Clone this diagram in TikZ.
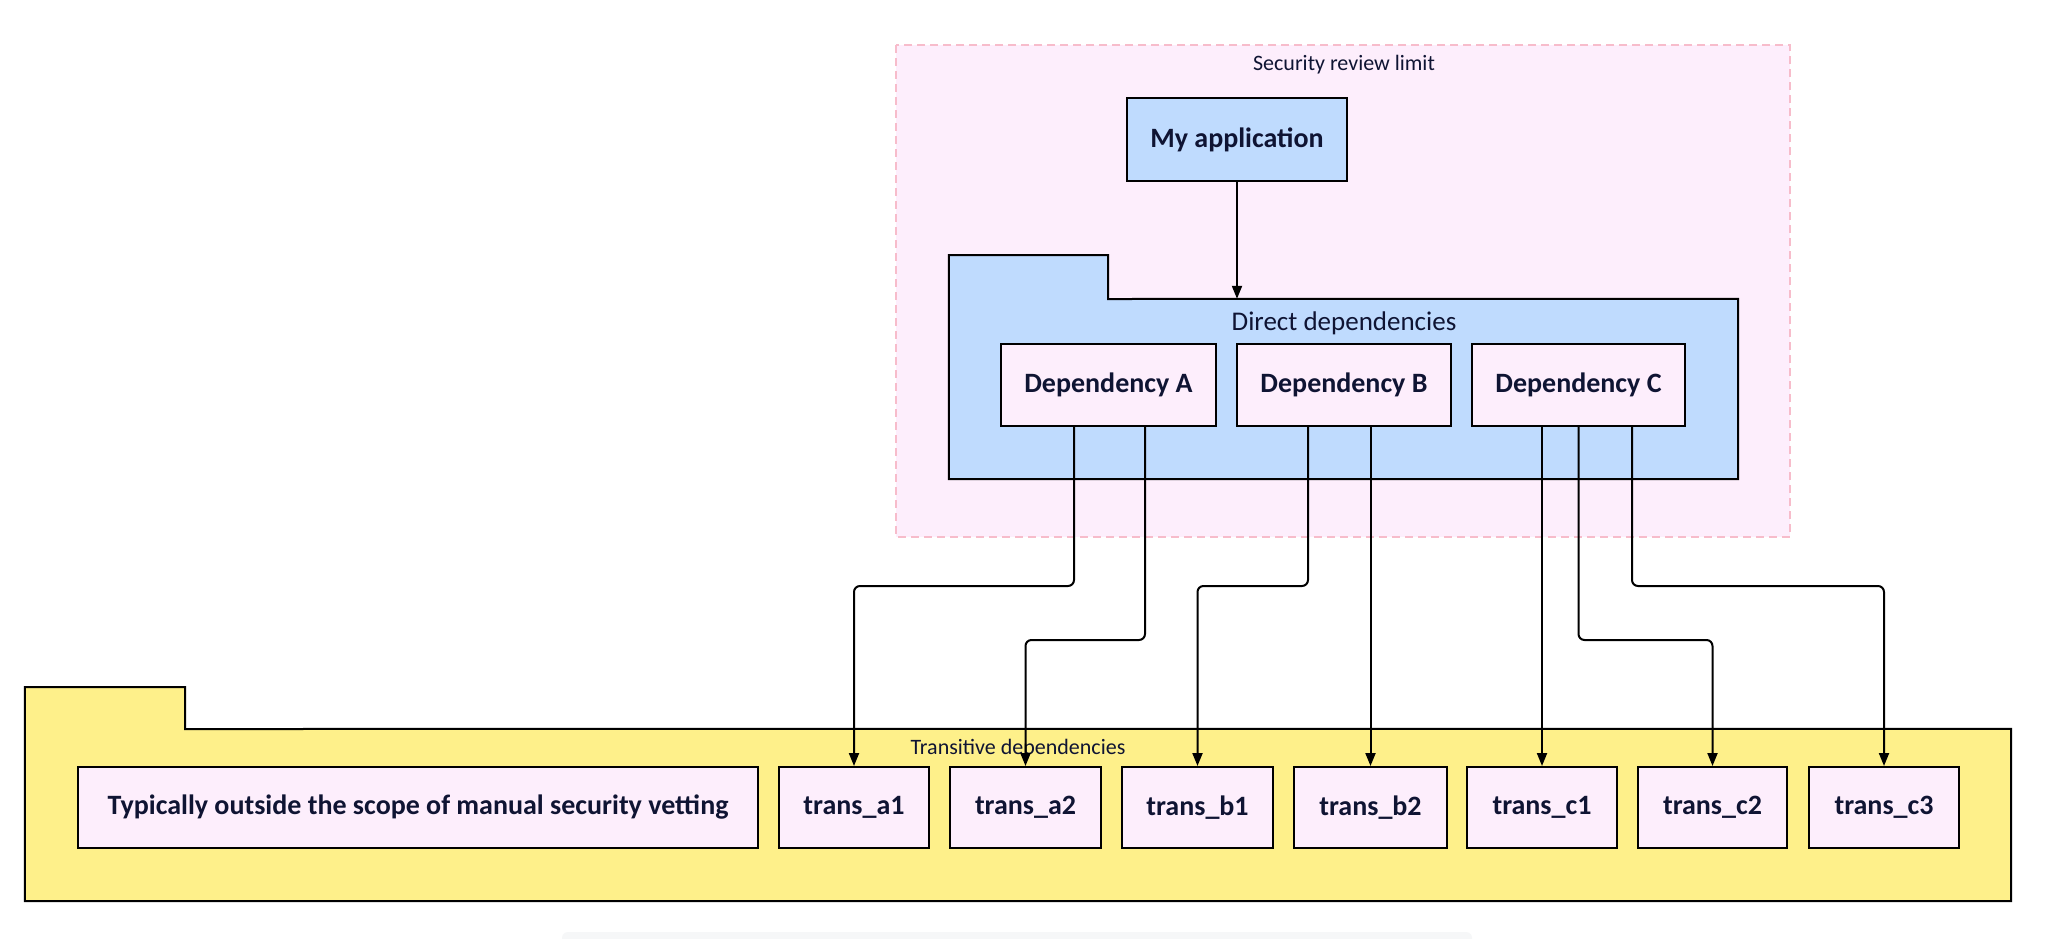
\documentclass[tikz,border=0pt]{standalone}
\usepackage{fontspec}
\setmainfont{Carlito}
\usetikzlibrary{arrows.meta}
\definecolor{pinkbg}{HTML}{FDEEFC}
\definecolor{pinkline}{HTML}{F7BCCB}
\definecolor{bluefill}{HTML}{BFDBFE}
\definecolor{yellowfill}{HTML}{FEF08A}
\definecolor{nodefill}{HTML}{FDEEFC}
\definecolor{ink}{HTML}{0F1433}
\definecolor{faint}{HTML}{F6F7F8}
\tikzset{
  box/.style={draw=black, line width=2pt, fill=nodefill, inner sep=0pt, text=ink,
    font=\fontsize{28}{32}\selectfont\bfseries},
  folder/.style={draw=black, line width=2pt, line join=miter},
  edge/.style={draw=black, line width=2pt, rounded corners=6pt,
    -{Stealth[length=13pt,width=10pt,inset=0pt]}},
  lbl/.style={text=ink, inner sep=0pt}
}
\begin{document}
\begin{tikzpicture}[x=1pt,y=-1pt]
\useasboundingbox (0,0) rectangle (2048,938);
\fill[white] (0,0) rectangle (2048,938);
% faint bar at the bottom
\fill[faint, rounded corners=6pt] (562,932) rectangle (1472,946);
% security review limit
\draw[pinkline, fill=pinkbg, line width=1.5pt, dash pattern=on 8pt off 5pt] (896,45) rectangle (1790,537);
\node[lbl, font=\fontsize{22}{25}\selectfont] (seclbl) at (1344,65) {Security review limit};
% My application
\node[box, fill=bluefill, minimum width=220pt, minimum height=83pt] (app) at (1237,139.5) {My application};
% direct dependencies folder
\node[inner sep=0pt, minimum width=789pt, minimum height=180pt] (direct) at (1343.5,389) {};
\draw[folder, fill=bluefill] (direct.south west) -- (direct.west |- 0,255) -- (1108,255) -- (1108,299)
  -- (direct.north east) -- (direct.south east) -- cycle;
\node[lbl, font=\fontsize{27}{30}\selectfont] (dirlbl) at (1344,323) {Direct dependencies};
\node[box, minimum width=215pt, minimum height=82pt] (depA) at (1108.5,385) {Dependency A};
\node[box, minimum width=214pt, minimum height=82pt] (depB) at (1344,385) {Dependency B};
\node[box, minimum width=213pt, minimum height=82pt] (depC) at (1578.5,385) {Dependency C};
% transitive dependencies folder
\node[inner sep=0pt, minimum width=1986pt, minimum height=172pt] (trans) at (1018,815) {};
\draw[folder, fill=yellowfill] (trans.south west) -- (trans.west |- 0,687) -- (185,687) -- (185,729)
  -- (trans.north east) -- (trans.south east) -- cycle;
\node[lbl, font=\fontsize{22}{25}\selectfont] (translbl) at (1018,749) {Transitive dependencies};
\node[box, minimum width=680pt, minimum height=81pt] (typ) at (418,807.5) {Typically outside the scope of manual security vetting};
\node[box, minimum width=150pt, minimum height=81pt] (ta1) at (854,807.5) {trans\_a1};
\node[box, minimum width=151pt, minimum height=81pt] (ta2) at (1025.5,807.5) {trans\_a2};
\node[box, minimum width=151pt, minimum height=81pt] (tb1) at (1197.5,807.5) {trans\_b1};
\node[box, minimum width=153pt, minimum height=81pt] (tb2) at (1370.5,807.5) {trans\_b2};
\node[box, minimum width=150pt, minimum height=81pt] (tc1) at (1542,807.5) {trans\_c1};
\node[box, minimum width=149pt, minimum height=81pt] (tc2) at (1712.5,807.5) {trans\_c2};
\node[box, minimum width=150pt, minimum height=81pt] (tc3) at (1884,807.5) {trans\_c3};
% edges
\draw[edge] (app.south) -- (app.south |- direct.north);
\draw[edge] ([xshift=-34.5pt]depA.south) -- ++(0,159) -| (ta1.north);
\draw[edge] ([xshift=36.5pt]depA.south) -- ++(0,213) -| (ta2.north);
\draw[edge] ([xshift=-36pt]depB.south) -- ++(0,159) -| (tb1.north);
\draw[edge] (depB.south -| tb2.north) -- (tb2.north);
\draw[edge] (depC.south -| tc1.north) -- (tc1.north);
\draw[edge] (depC.south) -- ++(0,213) -| (tc2.north);
\draw[edge] ([xshift=53.5pt]depC.south) -- ++(0,159) -| (tc3.north);
\end{tikzpicture}
\end{document}
